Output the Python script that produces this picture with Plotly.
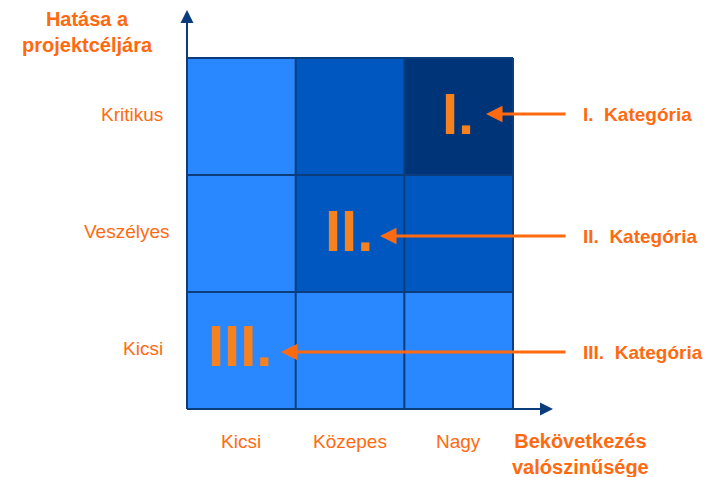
import plotly.graph_objects as go

# ---- data ----
prob_labels = ["Kicsi", "Közepes", "Nagy"]            # x categories (valószínűség)
impact_labels = ["Kicsi", "Veszélyes", "Kritikus"]    # y categories (hatás), bottom -> top
category_level = [                                    # rows bottom -> top
    [1, 1, 1],
    [1, 2, 2],
    [1, 2, 3],
]
roman = ["III.", "II.", "I."]
category_text = ["III.  Kategória", "II.  Kategória", "I.  Kategória"]
x_title = "Bekövetkezés<br>valószinűsége"
y_title = "Hatása a<br>projektcéljára"

# ---- style ----
OFF = 8                       # page body margin
W, H = 713 - OFF, 477 - OFF
ORANGE = "#FF6A10"
NUM_ORANGE = "#F5821F"
NAVY = "#0B3C7C"
colorscale = [[0, "#2987FF"], [0.5, "#0057C0"], [1, "#003479"]]

# pixel mapping of grid (page px): left 187, right 513, top 58, bottom 409
L, R, T, B = 187 - OFF, 513 - OFF, 58 - OFF, 409 - OFF
cw = (R - L) / 3
ch = (B - T) / 3
xr = [-L / cw, (W - L) / cw]
yr = [-(H - B) / ch, 3 + T / ch]

def px_x(p):
    return (p - OFF - L) / cw

def px_y(p):
    return (B - (p - OFF)) / ch

fig = go.Figure()
fig.add_trace(go.Heatmap(
    x=[0.5, 1.5, 2.5], y=[0.5, 1.5, 2.5], z=category_level,
    colorscale=colorscale, zmin=1, zmax=3, showscale=False, hoverinfo="skip"))

# grid lines
gx, gy = [], []
for i in range(4):
    gx += [i, i, None]
    gy += [0, 3, None]
    gx += [0, 3, None]
    gy += [i, i, None]
fig.add_trace(go.Scatter(x=gx, y=gy, mode="lines",
                         line=dict(color=NAVY, width=2), hoverinfo="skip", showlegend=False))

ann = []
# axis arrows
ann.append(dict(x=0, y=px_y(10), ax=0, ay=0, xref="x", yref="y", axref="x", ayref="y",
                text="", showarrow=True, arrowhead=2, arrowsize=1.3, arrowwidth=2, arrowcolor=NAVY))
ann.append(dict(x=px_x(553), y=0, ax=0, ay=0, xref="x", yref="y", axref="x", ayref="y",
                text="", showarrow=True, arrowhead=2, arrowsize=1.3, arrowwidth=2, arrowcolor=NAVY))

# tick labels
for i, t in enumerate(prob_labels):
    ann.append(dict(x=i + 0.5, y=px_y(441), text=t, showarrow=False, xref="x", yref="y",
                    font=dict(family="Liberation Sans", size=19, color=ORANGE)))
y_label_centers = [143, 127, 132]
for i, t in enumerate(impact_labels):
    ann.append(dict(x=px_x(y_label_centers[i]), y=i + 0.5 + 2 / ch, text=t, showarrow=False,
                    xref="x", yref="y",
                    font=dict(family="Liberation Sans", size=19, color=ORANGE)))

# axis titles
ann.append(dict(x=px_x(580), y=px_y(454), text="<b>" + x_title + "</b>", showarrow=False,
                xref="x", yref="y", align="center",
                font=dict(family="Liberation Sans", size=20, color=ORANGE)))
ann.append(dict(x=px_x(87), y=px_y(32), text="<b>" + y_title + "</b>", showarrow=False,
                xref="x", yref="y", align="center",
                font=dict(family="Liberation Sans", size=20, color=ORANGE)))

# roman numerals in cells
num_pos = [(px_x(240), px_y(345)), (px_x(349), px_y(230)), (px_x(458), px_y(113))]
for (nx, ny), t in zip(num_pos, roman):
    ann.append(dict(x=nx, y=ny, text="<b>" + t + "</b>", showarrow=False, xref="x", yref="y",
                    font=dict(family="Liberation Sans", size=58, color=NUM_ORANGE)))

# category arrows + labels
tips = [px_x(281), px_x(380), px_x(486)]
rows_y = [px_y(352), px_y(236), px_y(114)]
for i in range(3):
    ann.append(dict(x=tips[i], y=rows_y[i], ax=px_x(567), ay=rows_y[i],
                    xref="x", yref="y", axref="x", ayref="y", text="", showarrow=True,
                    arrowhead=2, arrowsize=1.1, arrowwidth=3, arrowcolor=ORANGE))
    ann.append(dict(x=px_x(581), y=rows_y[i], text="<b>" + category_text[i] + "</b>",
                    showarrow=False, xref="x", yref="y", xanchor="left",
                    font=dict(family="Liberation Sans", size=19, color=ORANGE)))

fig.update_layout(
    width=W, height=H, margin=dict(l=0, r=0, t=0, b=0),
    paper_bgcolor="white", plot_bgcolor="white",
    xaxis=dict(range=xr, visible=False, fixedrange=True),
    yaxis=dict(range=yr, visible=False, fixedrange=True),
    annotations=ann, showlegend=False,
)
fig.write_html("out.html")
